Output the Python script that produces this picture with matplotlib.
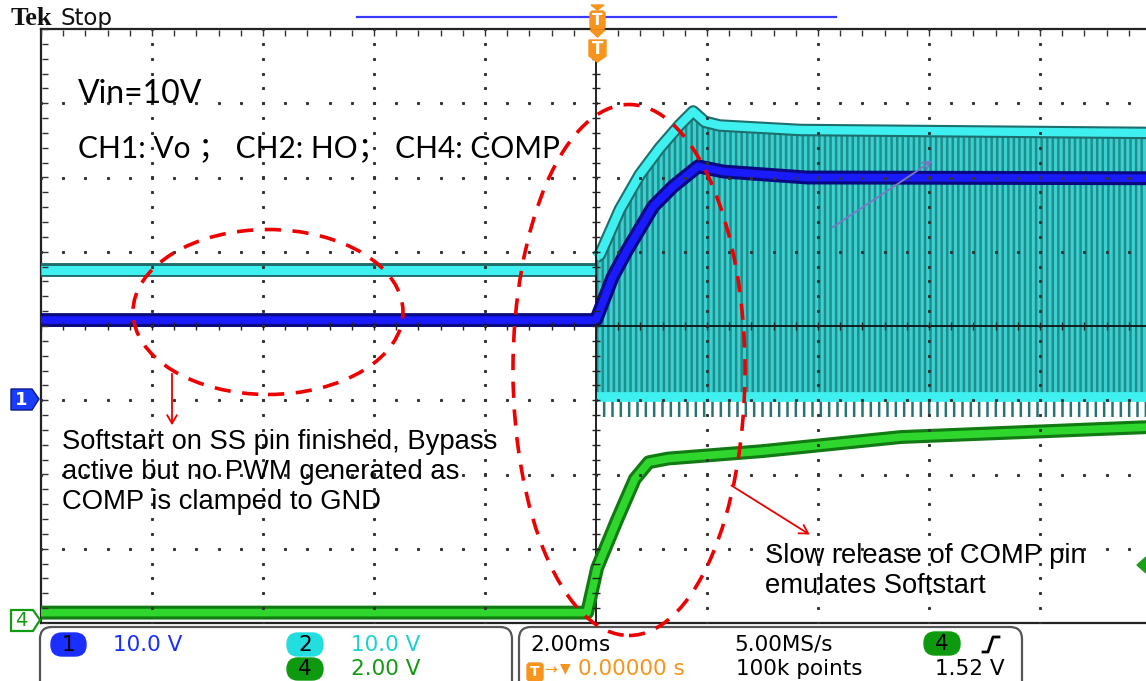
import numpy as np
import matplotlib
matplotlib.use("Agg")
import matplotlib.pyplot as plt
from matplotlib.patches import Ellipse, FancyBboxPatch, Polygon

W, H = 1146, 681
plt.rcParams["hatch.linewidth"] = 1.8

# ---------------- data (time in ms, values in volts) ----------------
t_vo = [-10, 0.0, 0.3, 0.56, 1.03, 1.39, 1.84, 2.3, 3.8, 10]
v_vo = [10.6, 10.6, 16.4, 20.0, 25.9, 28.6, 31.3, 30.6, 29.8, 29.7]

t_ho_pre = [-10, 0.0]
v_ho_pre = [17.4, 17.4]
t_ho = [0.0, 0.07, 0.43, 0.79, 1.15, 1.51, 1.75, 1.96, 2.23, 3.68, 10]
v_ho_high = [19.0, 19.4, 25.5, 30.2, 33.8, 36.9, 38.7, 37.3, 36.8, 36.2, 35.8]
v_ho_low = [0.3, 0.3, 0.3, 0.3, 0.3, 0.3, 0.3, 0.3, 0.3, 0.3, 0.3]
v_ho_ring = [-2.4, -2.4, -2.4, -2.4, -2.4, -2.4, -2.4, -2.4, -2.4, -2.4, -2.4]

t_comp = [-10, -0.16, 0.02, 0.38, 0.7, 0.95, 1.3, 3.0, 5.5, 10]
v_comp = [0.2, 0.2, 1.4, 2.7, 3.8, 4.25, 4.35, 4.55, 4.93, 5.2]

ch_scale = {"CH1": 10.0, "CH2": 10.0, "CH4": 2.0}     # V/div
ch_offset = {"CH1": -0.98, "CH2": -0.98, "CH4": -3.96}  # div

def to_div(ch, v):
    return np.asarray(v, float) / ch_scale[ch] + ch_offset[ch]

# ---------------- figure ----------------
fig = plt.figure(figsize=(W / 100, H / 100), dpi=100)
fig.patch.set_facecolor("white")
ax = fig.add_axes([41 / W, 58 / H, 1110 / W, 594 / H])
ax.set_xlim(-10, 10)
ax.set_ylim(-4, 4)
ax.set_xticks([])
ax.set_yticks([])
for s in ("left", "top", "bottom"):
    ax.spines[s].set_linewidth(1.6)
    ax.spines[s].set_color("#222222")
ax.spines["right"].set_visible(False)

# ---- graticule dots ----
yminor = np.arange(-4, 4.001, 0.2)
xminor = np.arange(-10, 10.001, 0.4)
for xg in np.arange(-8, 10, 2):
    if abs(xg) < 1e-9:
        continue
    ax.plot(np.full_like(yminor, xg), yminor, ls="none", marker="s", ms=1.2,
            color="#333333", zorder=6)
for yg in np.arange(-3, 4, 1):
    if yg == 0:
        continue
    ax.plot(xminor, np.full_like(xminor, yg), ls="none", marker="s", ms=1.2,
            color="#333333", zorder=6)
# border ticks
ax.plot(np.full_like(yminor, -9.93), yminor, ls="none", marker="_", ms=5,
        color="#333333", zorder=6)
ax.plot(xminor, np.full_like(xminor, 3.95), ls="none", marker="|", ms=4,
        color="#333333", zorder=6)

# ---- CH2 (HO) switching band ----
ax.fill_between(t_ho, to_div("CH2", v_ho_ring), to_div("CH2", v_ho_low),
                facecolor="none", edgecolor="#2a7373", hatch="||",
                linewidth=0, zorder=2)
ax.fill_between(t_ho, to_div("CH2", v_ho_low), to_div("CH2", v_ho_high),
                facecolor="#3cd0d0", edgecolor="#1f8e8e", hatch="|||",
                linewidth=0, zorder=2)
ax.plot(t_ho, to_div("CH2", v_ho_high), color="#1e6e6e", lw=9,
        solid_capstyle="butt", zorder=3)
ax.plot(t_ho, to_div("CH2", v_ho_high), color="#3ff0f0", lw=6,
        solid_capstyle="butt", zorder=3)
ax.plot(t_ho, to_div("CH2", v_ho_low), color="#3ff0f0", lw=7,
        solid_capstyle="butt", zorder=3)
ax.plot(t_ho_pre, to_div("CH2", v_ho_pre), color="#1e6e6e", lw=10,
        solid_capstyle="butt", zorder=3)
ax.plot(t_ho_pre, to_div("CH2", v_ho_pre), color="#3ff0f0", lw=6.5,
        solid_capstyle="butt", zorder=3)

# center cross lines
ax.axhline(0, color="#111111", lw=1.3, zorder=4)
ax.plot([0, 0], [-4, 3.55], color="#111111", lw=1.3, zorder=4)
ax.plot(np.zeros_like(yminor), yminor, ls="none", marker="_", ms=6,
        color="#222222", zorder=6)
ax.plot(xminor, np.zeros_like(xminor), ls="none", marker="|", ms=6,
        color="#222222", zorder=6)

# ---- CH1 (Vo) ----
ax.plot(t_vo, to_div("CH1", v_vo), color="#0a0a80", lw=10,
        solid_capstyle="butt", zorder=5)
ax.plot(t_vo, to_div("CH1", v_vo), color="#1a1aff", lw=5.5,
        solid_capstyle="butt", zorder=5)

# ---- CH4 (COMP) ----
ax.plot(t_comp, to_div("CH4", v_comp), color="#127a12", lw=10,
        solid_capstyle="butt", zorder=5)
ax.plot(t_comp, to_div("CH4", v_comp), color="#2ed62e", lw=5.5,
        solid_capstyle="butt", zorder=5)

# ---------------- helpers in pixel space ----------------
def inch(pts):
    return [(x / 100, (H - y) / 100) for x, y in pts]

def poly(pts, fc, ec, lw=1.0, z=10):
    p = Polygon(inch(pts), closed=True, facecolor=fc, edgecolor=ec, lw=lw,
                transform=fig.dpi_scale_trans, zorder=z)
    fig.add_artist(p)

def rbox(x0, y0, x1, y1, fc, ec, r=0.1, lw=1.5, z=10):
    p = FancyBboxPatch((x0 / 100, (H - y1) / 100), (x1 - x0) / 100, (y1 - y0) / 100,
                       boxstyle=f"round,pad=0,rounding_size={r}",
                       transform=fig.dpi_scale_trans, facecolor=fc,
                       edgecolor=ec, lw=lw, zorder=z)
    fig.add_artist(p)

def ftext(x, y, s, **kw):
    fig.text(x / W, 1 - y / H, s, **kw)

# ---------------- header ----------------
ftext(11, 25, "Tek", family="Liberation Serif", weight="bold", fontsize=19,
      va="baseline", color="#111111")
ftext(60, 25, "Stop", family="DejaVu Sans", fontsize=16.5, va="baseline",
      color="#111111")
fig.add_artist(plt.Line2D([357 / W, 836 / W], [1 - 17 / H, 1 - 17 / H],
                          color="#3a3aff", lw=1.6, transform=fig.transFigure))
orange = "#f7941d"
poly([(591, 5), (604, 5), (597.5, 10)], orange, orange, z=11)
rbox(590, 11, 605, 29, orange, orange, r=0.03, lw=1, z=11)
ftext(597.5, 20.5, "T", color="white", weight="bold", fontsize=11,
      ha="center", va="center", zorder=12)
poly([(590, 30), (605, 30), (597.5, 37)], orange, orange, z=11)
poly([(589, 40), (606, 40), (606, 56), (597.5, 62), (589, 56)], orange, orange, z=11)
ftext(597.5, 49, "T", color="white", weight="bold", fontsize=12,
      ha="center", va="center", zorder=12)

# ---------------- channel markers ----------------
poly([(11, 389), (32, 389), (39, 399), (32, 410), (11, 410)], "#1a3cff", "#0a1a8a", lw=1)
ftext(21, 400, "1", color="white", weight="bold", fontsize=13, ha="center",
      va="center", zorder=12)
poly([(11, 610), (33, 610), (40, 620), (33, 631), (11, 631)], "white", "#139a13", lw=1.6)
ftext(21, 620.5, "4", color="#139a13", fontsize=14, ha="center", va="center",
      zorder=12)
poly([(1137, 565), (1146, 557), (1146, 573)], "#1aa01a", "#1aa01a", z=11)

# ---------------- annotations ----------------
ftext(78, 103, "Vin=10V", family="Lato", fontsize=23, va="baseline")
ftext(78, 157, "CH1: Vo \uff1b CH2: HO\uff1b CH4: COMP",
      family=["Lato", "Noto Sans CJK SC"], fontsize=21.5, va="baseline")

ann = dict(family="Liberation Sans", fontsize=19.7, va="baseline", color="black")
ftext(62, 449, "Softstart on SS pin finished, Bypass", **ann)
ftext(62, 479, "active but no PWM generated as", **ann)
ftext(62, 509, "COMP is clamped to GND", **ann)
ftext(765, 563, "Slow release of COMP pin", **ann)
ftext(765, 593, "emulates Softstart", **ann)

red = "#ee0000"
for (cx, cy, w, h) in [(268, 312, 270, 165), (629, 370, 232, 531)]:
    e = Ellipse((cx / 100, (H - cy) / 100), w / 100, h / 100,
                transform=fig.dpi_scale_trans, fill=False, edgecolor=red,
                lw=2.6, linestyle=(0, (4.5, 3.2)), zorder=9)
    fig.add_artist(e)

ax.annotate("", xy=(172, H - 428), xytext=(172, H - 371),
            xycoords="figure pixels", textcoords="figure pixels",
            arrowprops=dict(arrowstyle="->,head_length=0.6,head_width=0.35",
                            color=red, lw=1.3), zorder=9)
ax.annotate("", xy=(812, H - 536), xytext=(729, H - 484),
            xycoords="figure pixels", textcoords="figure pixels",
            arrowprops=dict(arrowstyle="->,head_length=0.6,head_width=0.35",
                            color=red, lw=1.3), zorder=9)
ax.annotate("", xy=(935, H - 159), xytext=(830, H - 229),
            xycoords="figure pixels", textcoords="figure pixels",
            arrowprops=dict(arrowstyle="->,head_length=0.6,head_width=0.3",
                            color="#7878c8", lw=1.3), zorder=9)

# ---------------- status bar ----------------
rbox(40, 627, 512, 700, "white", "#555555", r=0.12, lw=1.6, z=8)
rbox(519, 627, 1022, 700, "white", "#555555", r=0.12, lw=1.6, z=8)

sb = dict(family="DejaVu Sans", fontsize=15.5, va="center", zorder=12)
rbox(51, 633, 86, 656, "#1a2fff", "#1a2fff", r=0.11, lw=1, z=11)
ftext(68.5, 645, "1", color="black", ha="center", **sb)
ftext(113, 645, "10.0 V", color="#1a2fff", **sb)
ftext(224, 641, "B", color="#1a2fff", family="DejaVu Sans", fontsize=7, va="center")
ftext(231, 648, "W", color="#1a2fff", family="DejaVu Sans", fontsize=7, va="center")

rbox(287, 633, 323, 656, "#22dede", "#22dede", r=0.11, lw=1, z=11)
ftext(305, 645, "2", color="black", ha="center", **sb)
ftext(351, 645, "10.0 V", color="#1fd0d0", **sb)
ftext(460, 641, "B", color="#1fd0d0", family="DejaVu Sans", fontsize=7, va="center")
ftext(467, 648, "W", color="#1fd0d0", family="DejaVu Sans", fontsize=7, va="center")

rbox(287, 658, 323, 680, "#0e9a0e", "#0e9a0e", r=0.11, lw=1, z=11)
ftext(305, 669, "4", color="black", ha="center", **sb)
ftext(351, 669, "2.00 V", color="#129a12", **sb)

ftext(530, 645, "2.00ms", color="black", **sb)
ftext(734, 645, "5.00MS/s", color="black", **sb)
rbox(924, 632, 960, 655, "#0e9a0e", "#0e9a0e", r=0.11, lw=1, z=11)
ftext(942, 644, "4", color="black", ha="center", **sb)
fig.add_artist(plt.Line2D([983 / W, 988 / W, 993 / W, 999 / W],
                          [1 - 652 / H, 1 - 652 / H, 1 - 637 / H, 1 - 637 / H],
                          color="black", lw=2, transform=fig.transFigure, zorder=12))

rbox(527, 663, 543, 681, orange, orange, r=0.03, lw=1, z=11)
ftext(535, 672, "T", color="white", weight="bold", fontsize=10, ha="center",
      va="center", zorder=12)
ftext(544, 670, "\u2192", color=orange, family="DejaVu Sans", fontsize=11,
      va="center", zorder=12)
ftext(560, 668, "\u25bc", color=orange, family="DejaVu Sans", fontsize=10,
      va="center", zorder=12)
ftext(578, 669, "0.00000 s", color=orange, **sb)
ftext(736, 669, "100k points", color="black", **sb)
ftext(935, 669, "1.52 V", color="black", **sb)

fig.savefig("out.png", dpi=100, facecolor="white")
